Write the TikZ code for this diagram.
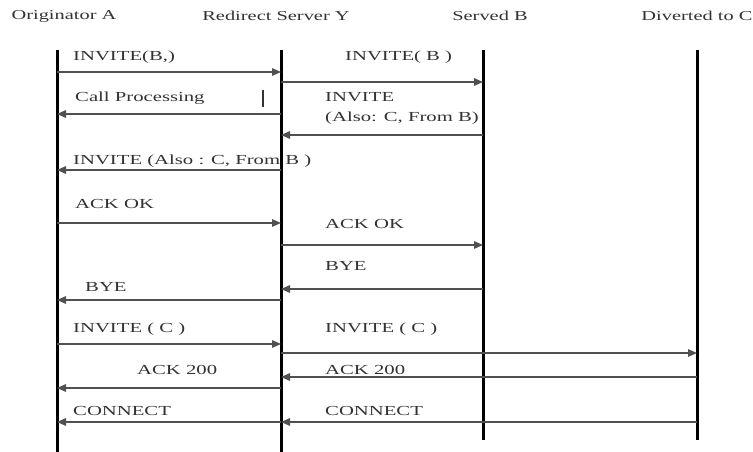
\documentclass[tikz,border=0pt]{standalone}
\usepackage{fontspec}
\setmainfont{Liberation Serif}[FakeStretch=1.5]
\usetikzlibrary{arrows.meta}
\definecolor{txt}{HTML}{333333}
\definecolor{ln}{HTML}{505050}
\tikzset{
  life/.style={line width=3pt,black},
  msg/.style={line width=1.4pt,ln,-{Triangle[length=9pt,width=7.5pt]}},
  lbl/.style={anchor=west,inner sep=0pt,text=txt,font=\fontsize{13.8}{15}\selectfont},
  head/.style={inner sep=0pt,text=txt,font=\fontsize{13.6}{15}\selectfont}
}
\begin{document}
\begin{tikzpicture}[x=1pt,y=-1pt]
\useasboundingbox[fill=white] (0,0) rectangle (753,452);
% headers
\node[head] (hA) at (64,16) {Originator A};
\node[head] (hY) at (276,16) {Redirect Server Y};
\node[head] (hB) at (490,16) {Served B};
\node[head] (hC) at (697,16) {Diverted to C};
% lifelines
\coordinate (A) at (57,50);  \coordinate (Ae) at (57,452);
\coordinate (Y) at (281,50); \coordinate (Ye) at (281,452);
\coordinate (B) at (483,50); \coordinate (Be) at (483,440);
\coordinate (C) at (697,50); \coordinate (Ce) at (697,440);
\draw[life] (A) -- (Ae);
\draw[life] (Y) -- (Ye);
\draw[life] (B) -- (Be);
\draw[life] (C) -- (Ce);
% messages
\draw[msg] (A |- 0,72) -- (Y |- 0,72);
\node[lbl] (l1) at (73,57) {INVITE(B,)};
\draw[msg] (Y |- 0,82) -- (B |- 0,82);
\node[lbl] (l2) at (345,57) {INVITE( B )};
\draw[msg] (Y |- 0,114) -- (A |- 0,114);
\node[lbl] (l3) at (75,98) {Call Processing};
\coordinate (bar1) at (263,90); \coordinate (bar2) at (263,107);
\draw[line width=2pt,txt] (bar1) -- (bar2);
\draw[msg] (B |- 0,135) -- (Y |- 0,135);
\node[lbl,align=left,font=\fontsize{13.8}{20}\selectfont] (l4) at (325,108) {INVITE\\(Also: C, From B)};
\draw[msg] (Y |- 0,170) -- (A |- 0,170);
\node[lbl] (l5) at (73,161) {INVITE (Also : C, From B )};
\draw[msg] (A |- 0,223) -- (Y |- 0,223);
\node[lbl] (l6) at (75,204) {ACK OK};
\draw[msg] (Y |- 0,245) -- (B |- 0,245);
\node[lbl] (l7) at (325,224) {ACK OK};
\draw[msg] (B |- 0,289) -- (Y |- 0,289);
\node[lbl] (l8) at (325,266) {BYE};
\draw[msg] (Y |- 0,300) -- (A |- 0,300);
\node[lbl] (l9) at (85,287) {BYE};
\draw[msg] (A |- 0,344) -- (Y |- 0,344);
\node[lbl] (l10) at (73,329) {INVITE ( C )};
\draw[msg] (Y |- 0,353) -- (C |- 0,353);
\node[lbl] (l11) at (325,329) {INVITE ( C )};
\draw[msg] (C |- 0,377) -- (Y |- 0,377);
\node[lbl] (l12) at (325,370) {ACK 200};
\draw[msg] (Y |- 0,388) -- (A |- 0,388);
\node[lbl] (l13) at (137,370) {ACK 200};
\draw[msg] (C |- 0,422) -- (Y |- 0,422);
\node[lbl] (l14) at (325,411) {CONNECT};
\draw[msg] (Y |- 0,422) -- (A |- 0,422);
\node[lbl] (l15) at (73,411) {CONNECT};
\end{tikzpicture}
\end{document}
